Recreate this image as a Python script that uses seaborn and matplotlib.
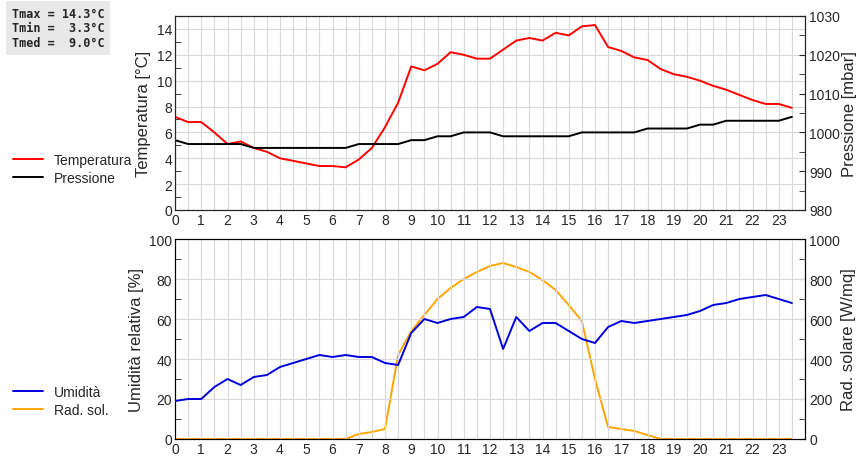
import numpy as np
import pandas as pd
import matplotlib
matplotlib.use("Agg")
import matplotlib.pyplot as plt
import seaborn as sns
from matplotlib.ticker import MultipleLocator

HOURS = [i * 0.5 for i in range(48)]
TEMP = [7.2, 6.8, 6.8, 6.0, 5.1, 5.3, 4.8, 4.5, 4.0, 3.8, 3.6, 3.4, 3.4, 3.3, 3.9, 4.8,
        6.4, 8.3, 11.1, 10.8, 11.3, 12.2, 12.0, 11.7, 11.7, 12.4, 13.1, 13.3, 13.1, 13.7,
        13.5, 14.2, 14.3, 12.6, 12.3, 11.8, 11.6, 10.9, 10.5, 10.3, 10.0, 9.6, 9.3, 8.9,
        8.5, 8.2, 8.2, 7.9]
PRESS = [998, 997, 997, 997, 997, 997, 996, 996, 996, 996, 996, 996, 996, 996, 997, 997,
         997, 997, 998, 998, 999, 999, 1000, 1000, 1000, 999, 999, 999, 999, 999, 999,
         1000, 1000, 1000, 1000, 1000, 1001, 1001, 1001, 1001, 1002, 1002, 1003, 1003,
         1003, 1003, 1003, 1004]
HUM = [19, 20, 20, 26, 30, 27, 31, 32, 36, 38, 40, 42, 41, 42, 41, 41, 38, 37, 53, 60,
       58, 60, 61, 66, 65, 45, 61, 54, 58, 58, 54, 50, 48, 56, 59, 58, 59, 60, 61, 62,
       64, 67, 68, 70, 71, 72, 70, 68]
RAD = [0] * 14 + [25, 35, 50, 420, 540, 620, 700, 755, 800, 835, 865, 880, 860, 835,
                  795, 745, 670, 590, 300, 60, 50, 40, 20, 0] + [0] * 10
STATS = "Tmax = 14.3°C\nTmin =  3.3°C\nTmed =  9.0°C"

df = pd.DataFrame({"ora": HOURS, "temp": TEMP, "press": PRESS, "hum": HUM, "rad": RAD})

sns.set_style("white")
plt.rcParams["font.family"] = "Liberation Sans"
fig = plt.figure(figsize=(8.6, 4.6), dpi=100)
ax1 = fig.add_axes([175 / 860, 1 - 211 / 460, 630 / 860, 194 / 460])
ax3 = fig.add_axes([175 / 860, 1 - 440 / 460, 630 / 860, 200 / 460])


def style(ax, ymaj, ymin):
    ax.set_xlim(0, 24)
    ax.xaxis.set_minor_locator(MultipleLocator(0.5))
    ax.set_xticks(range(24))
    ax.yaxis.set_major_locator(MultipleLocator(ymaj))
    ax.yaxis.set_minor_locator(MultipleLocator(ymin))
    ax.grid(True, which="major", color="#d8d8d8", lw=0.8)
    ax.grid(True, which="minor", axis="x", color="#d8d8d8", lw=0.8)
    ax.tick_params(which="both", direction="in", length=4, labelsize=10, pad=2)
    ax.tick_params(which="major", length=0)
    ax.set_xlabel("")
    for s in ax.spines.values():
        s.set_color("black")
        s.set_linewidth(0.8)


def right(ax, maj, mnr, label):
    ax.yaxis.set_major_locator(MultipleLocator(maj))
    ax.yaxis.set_minor_locator(MultipleLocator(mnr))
    ax.tick_params(which="both", direction="in", length=4, labelsize=10, pad=3)
    ax.set_ylabel(label, fontsize=12, labelpad=1)


sns.lineplot(data=df, x="ora", y="temp", ax=ax1, color="red", lw=1.4, label="Temperatura", legend=False)
ax1.set_ylim(0, 15)
style(ax1, 2, 1)
ax1.set_ylabel("Temperatura [°C]", fontsize=12)
ax2 = ax1.twinx()
sns.lineplot(data=df, x="ora", y="press", ax=ax2, color="black", lw=1.4, label="Pressione", legend=False)
ax2.set_ylim(980, 1030)
right(ax2, 10, 5, "Pressione [mbar]")

sns.lineplot(data=df, x="ora", y="hum", ax=ax3, color="#0000dd", lw=1.4, label="Umidità", legend=False, zorder=3)
ax3.set_ylim(0, 100)
style(ax3, 20, 10)
ax3.set_ylabel("Umidità relativa [%]", fontsize=12)
ax4 = ax3.twinx()
sns.lineplot(data=df, x="ora", y="rad", ax=ax4, color="orange", lw=1.4, label="Rad. sol.", legend=False)
ax4.set_ylim(0, 1000)
right(ax4, 200, 100, "Rad. solare [W/mq]")
ax3.set_zorder(ax4.get_zorder() + 1)
ax3.patch.set_visible(False)

for axs, y in (((ax1, ax2), 170 / 460), ((ax3, ax4), 402 / 460)):
    handles = [a.get_lines()[0] for a in axs]
    fig.legend(handles, [h.get_label() for h in handles], loc="center left",
               bbox_to_anchor=(0.0, 1 - y), frameon=False, fontsize=10,
               handlelength=2.2, labelspacing=0.3)

fig.text(0.014, 1 - 8 / 460, STATS, family="DejaVu Sans Mono", weight="bold", fontsize=8.5,
         va="top", ha="left", linespacing=1.15,
         bbox=dict(facecolor="#e8e8e8", edgecolor="none", pad=4))

fig.savefig("out.png", dpi=100)
